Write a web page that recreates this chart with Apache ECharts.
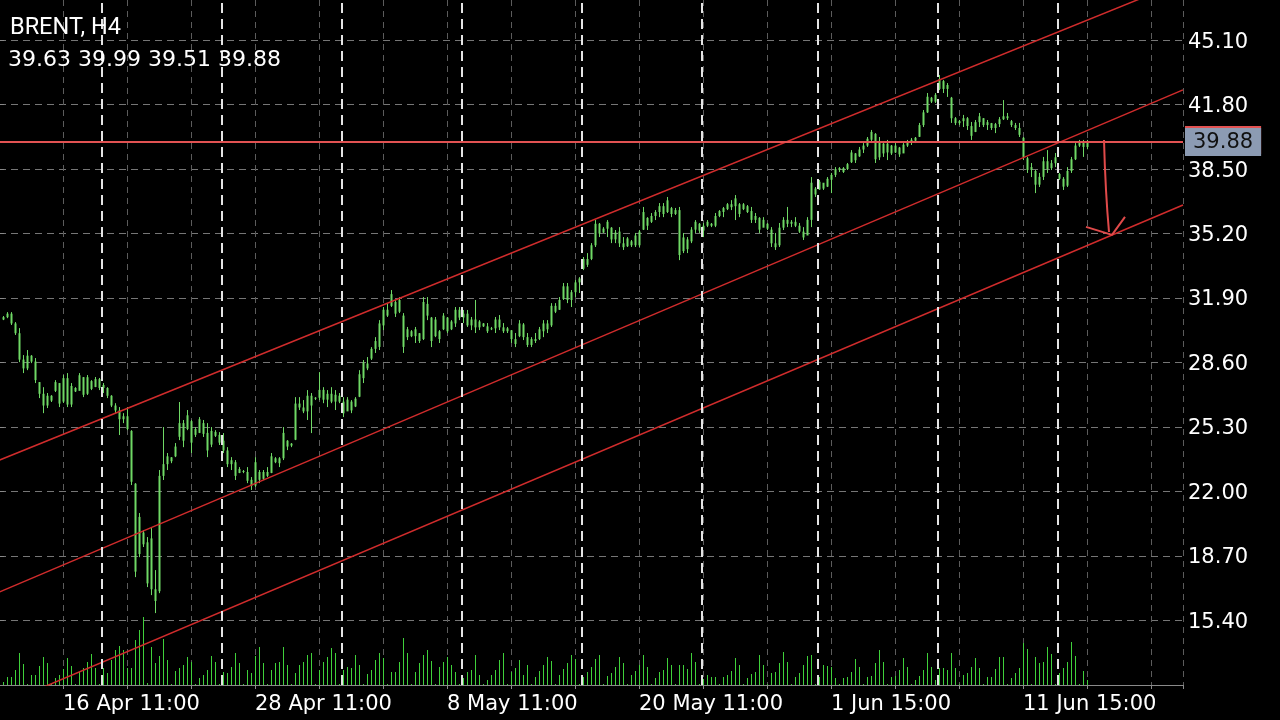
<!DOCTYPE html>
<html>
<head>
<meta charset="utf-8">
<script src="https://cdn.jsdelivr.net/npm/echarts@6/dist/echarts.min.js"></script>
<style>
html,body{margin:0;padding:0;background:#000;}
#chart{width:1280px;height:720px;}
</style>
</head>
<body>
<div id="chart"></div>
<script>
// ---- data (H4 bars, index 0..271) ----
const symbolName = 'BRENT, H4';
const open = [
30.80,30.92,31.10,30.60,30.10,28.75,28.30,28.95,28.65,27.60,
27.00,26.40,26.90,27.15,27.55,26.60,27.80,26.45,27.30,27.15,
27.85,27.00,27.65,27.35,27.75,27.30,27.30,26.90,26.40,26.15,
25.70,25.85,25.10,22.40,18.80,19.90,19.40,19.60,17.00,16.90,
22.80,23.40,23.75,23.80,24.80,25.50,25.20,25.60,25.20,25.00,
25.50,25.00,24.40,25.05,24.90,24.60,24.10,23.40,23.50,22.95,
23.05,23.00,22.60,22.30,23.00,22.65,23.00,22.95,23.70,23.45,
23.70,24.60,24.35,24.65,26.50,26.30,26.10,26.90,26.75,26.80,
27.20,26.70,27.00,26.60,26.90,26.60,26.10,26.60,26.35,26.85,
27.80,28.55,28.80,29.30,29.40,30.50,31.30,31.50,31.70,31.20,
31.00,29.90,30.20,29.95,30.10,29.80,31.60,30.90,29.95,30.20,
30.30,30.90,30.30,30.60,31.30,30.90,31.10,30.50,30.80,30.40,
30.60,30.45,30.30,30.35,30.80,30.40,30.20,30.25,29.80,29.95,
30.55,29.90,29.50,29.80,29.80,30.20,30.60,30.50,31.50,31.30,
31.85,32.50,31.80,32.20,32.70,33.40,33.90,33.90,34.60,35.70,
35.25,35.45,35.50,34.90,35.30,34.70,34.55,34.80,34.60,34.60,
35.40,36.00,35.80,36.10,36.30,36.60,36.30,36.50,36.20,36.40,
34.30,34.90,34.80,35.40,35.70,35.35,35.60,35.70,35.60,36.10,
36.30,36.45,36.70,36.60,36.70,36.45,36.60,36.35,35.90,36.00,
35.50,35.70,35.40,34.70,34.60,35.50,35.90,35.70,35.80,35.60,
35.30,35.10,35.90,37.50,37.45,37.80,37.60,37.95,38.20,38.45,
38.55,38.50,38.85,39.30,39.15,39.50,39.70,40.00,40.30,39.10,
39.80,39.35,39.70,39.35,39.60,39.30,39.70,39.85,39.95,40.15,
40.75,41.40,42.15,41.95,42.60,43.00,42.60,42.15,41.10,40.85,
40.95,41.10,40.70,40.40,40.90,41.10,40.75,40.85,40.60,40.80,
41.05,41.20,40.95,40.75,40.60,40.10,39.05,38.45,38.40,37.70,
38.10,38.90,38.55,38.80,38.25,38.00,37.65,38.40,39.00,39.70,
39.85,39.63
];
const high = [
30.98,31.18,31.18,30.67,30.36,28.98,29.24,28.98,28.83,27.60,
27.34,27.04,26.93,27.70,27.55,27.96,28.06,27.55,27.34,28.06,
27.86,27.96,27.70,27.86,27.81,27.55,27.34,26.93,26.52,26.32,
26.01,26.32,25.14,22.43,20.90,20.03,19.67,20.13,17.98,23.10,
25.30,23.97,23.76,24.48,26.58,25.66,26.17,25.66,25.30,25.81,
25.66,25.50,25.30,25.14,25.04,24.99,24.27,23.76,23.61,23.25,
23.10,23.25,22.74,23.76,23.10,23.10,23.25,23.97,23.76,23.76,
25.30,24.63,24.48,26.83,26.83,26.68,27.19,27.04,26.83,28.11,
27.34,27.19,27.34,27.19,27.04,26.83,26.83,26.68,26.83,28.21,
28.73,28.88,29.39,29.90,30.77,31.44,31.64,32.31,31.80,31.95,
31.13,30.42,30.26,30.42,30.11,31.95,31.95,30.93,30.93,30.26,
31.13,30.93,30.77,31.44,31.44,31.29,31.29,30.93,31.80,30.77,
30.62,30.62,30.42,30.93,31.03,30.62,30.42,30.26,30.11,30.77,
30.62,30.11,29.90,30.11,30.42,30.77,30.77,31.64,31.64,31.95,
32.67,32.67,32.31,32.82,32.97,34.00,34.20,34.71,35.89,35.74,
35.53,35.89,35.53,35.38,35.53,35.02,35.02,34.87,35.23,35.38,
36.56,36.04,36.25,36.40,36.76,36.76,37.07,36.56,36.51,36.56,
35.23,35.02,35.53,35.89,35.74,35.74,35.89,35.74,36.25,36.40,
36.56,36.76,36.91,37.17,36.76,36.76,36.66,36.56,36.25,36.04,
36.04,35.74,35.53,35.23,35.74,36.04,36.56,35.89,36.04,35.74,
35.53,36.04,38.09,37.58,37.94,37.78,38.09,38.30,38.60,38.60,
38.60,38.81,39.47,39.32,39.63,39.83,40.14,40.50,40.34,40.14,
39.83,39.99,39.73,39.83,39.63,39.83,39.99,40.09,40.14,40.86,
41.52,42.39,42.19,42.39,43.31,43.06,42.90,42.19,41.16,41.01,
41.27,41.16,40.91,41.01,41.37,41.11,41.01,40.86,40.86,41.16,
42.03,41.37,41.01,40.86,40.86,40.14,39.12,38.81,38.45,38.30,
39.12,39.47,38.96,39.32,38.30,38.09,38.60,39.12,39.83,39.99,
39.99,39.99
];
const low = [
30.77,30.87,30.52,30.01,28.62,28.06,28.21,28.57,27.55,26.78,
26.01,26.27,26.58,27.09,26.32,26.53,26.32,26.32,27.09,27.19,
26.83,26.94,27.19,27.34,27.19,27.04,26.78,26.32,26.01,24.89,
25.50,25.14,22.33,17.62,18.64,19.16,17.11,16.70,15.78,16.80,
22.59,23.10,23.45,23.76,24.63,24.27,25.14,23.97,24.79,24.99,
24.79,23.76,24.27,24.79,24.38,23.97,23.25,23.10,22.59,22.94,
22.94,22.43,22.08,22.23,22.43,22.59,22.74,22.94,23.45,23.25,
23.61,24.12,24.27,24.63,26.17,26.01,25.66,24.99,26.68,26.68,
26.52,26.32,26.52,26.17,26.52,25.81,26.17,26.01,26.32,26.83,
27.55,28.21,28.73,29.09,29.24,30.26,30.93,31.44,30.93,31.13,
29.09,29.75,29.90,29.60,29.60,29.75,30.77,29.39,29.90,29.60,
30.26,30.11,30.26,30.42,30.77,30.62,30.42,30.26,30.11,30.26,
30.42,30.11,30.26,30.11,30.26,30.11,30.11,29.60,29.39,29.90,
29.75,29.39,29.39,29.60,29.75,29.90,30.11,30.42,31.13,31.29,
31.80,31.64,31.44,31.95,32.16,33.33,33.49,33.84,34.51,35.02,
35.23,35.02,34.71,34.71,34.51,34.36,34.51,34.51,34.51,34.51,
35.38,35.38,35.74,35.89,36.04,36.04,36.25,36.04,36.15,33.84,
34.20,34.20,34.71,35.23,35.23,35.02,35.53,35.53,35.53,36.04,
36.04,36.40,36.40,35.89,36.04,36.40,36.25,35.74,35.74,35.23,
35.53,35.38,34.51,34.36,34.51,35.38,35.53,35.53,35.53,35.23,
34.87,35.23,35.53,37.07,37.43,37.43,37.58,37.27,38.09,38.35,
38.30,38.45,38.81,38.81,39.12,39.32,39.63,39.83,38.81,38.96,
39.12,38.96,39.22,39.32,39.12,39.32,39.63,39.73,39.83,40.14,
40.65,41.37,41.88,41.88,42.54,42.39,42.19,40.86,40.75,40.75,
40.65,40.50,39.99,40.39,40.65,40.65,40.50,40.50,40.34,40.65,
41.01,41.01,40.65,40.50,40.14,38.96,38.30,38.09,37.27,37.58,
37.94,38.30,38.45,38.60,37.94,37.43,37.58,38.30,38.96,39.63,
39.12,39.51
];
const close = [
30.92,31.10,30.60,30.10,28.75,28.30,28.95,28.65,27.70,27.00,
26.40,26.90,26.65,27.60,26.50,27.80,26.45,27.40,27.12,27.95,
26.95,27.85,27.25,27.75,27.30,27.45,26.90,26.40,26.15,25.70,
25.85,25.20,22.50,17.90,20.70,19.30,17.30,17.00,16.40,22.80,
23.40,23.80,23.55,24.30,25.50,24.60,25.90,24.50,24.90,25.70,
24.95,24.10,25.10,24.85,24.50,24.10,23.40,23.60,22.80,23.15,
23.00,22.55,22.30,23.50,22.60,23.00,22.80,23.80,23.50,23.70,
25.00,24.30,24.45,26.50,26.30,26.10,26.90,26.40,26.80,27.20,
26.70,27.00,26.60,26.95,26.60,26.00,26.70,26.15,26.75,28.00,
28.60,28.30,29.30,29.70,30.60,31.30,31.00,32.10,31.10,31.80,
29.40,30.30,29.95,30.30,29.70,31.70,31.00,29.70,30.80,29.80,
31.00,30.20,30.70,31.30,30.90,31.10,30.50,30.80,30.40,30.70,
30.45,30.20,30.35,30.80,30.40,30.20,30.35,29.80,29.55,30.60,
29.90,29.50,29.80,29.70,30.30,30.60,30.30,31.50,31.20,31.80,
32.50,31.80,32.20,32.70,32.90,33.90,33.60,34.60,35.70,35.20,
35.45,35.80,34.90,35.25,34.70,34.50,34.95,34.60,35.10,35.30,
36.30,35.60,36.10,36.30,36.60,36.20,36.90,36.20,36.40,34.10,
35.00,34.40,35.40,35.80,35.35,35.60,35.80,35.60,36.10,36.35,
36.50,36.70,36.55,37.00,36.20,36.70,36.30,35.90,36.10,35.40,
35.90,35.45,34.70,34.50,35.50,35.90,35.70,35.80,35.60,35.30,
35.00,35.90,37.80,37.20,37.85,37.50,38.00,38.20,38.50,38.55,
38.35,38.75,39.35,38.95,39.50,39.70,40.05,40.40,39.00,39.90,
39.30,39.80,39.30,39.70,39.25,39.75,39.90,40.00,40.10,40.75,
41.40,42.20,41.95,42.30,43.10,42.60,42.80,41.10,40.85,40.95,
41.10,40.70,40.20,40.90,41.20,40.75,40.90,40.60,40.80,41.05,
41.20,41.10,40.75,40.60,40.25,39.10,38.45,38.60,37.70,38.10,
38.90,38.50,38.80,39.10,38.00,37.60,38.40,39.00,39.70,39.85,
39.63,39.88
];
const volume = [
300,800,800,1500,3200,2100,100,1000,1000,1900,
2800,2200,100,700,1000,1600,2700,1900,100,1300,
1700,2300,3100,1700,100,1700,1200,2500,3500,3900,
3500,1700,1700,4500,5500,6800,200,3800,2200,2900,
4600,2500,100,1400,1700,2000,2800,2300,100,700,
1000,1500,2900,2300,100,1300,1200,1800,3200,2200,
100,1500,1200,2900,3800,2200,100,1500,2200,2300,
3800,2000,100,1200,2000,2300,3000,3200,100,1500,
2300,2800,3700,3200,100,1500,1800,1700,3000,2000,
100,1100,1500,2500,3200,2700,100,1300,1300,2300,
4700,3200,100,1300,2200,3000,3500,2400,100,1800,
2300,2800,2000,1300,100,700,1300,1500,3000,1000,
100,500,1000,1500,2500,3200,100,1300,1700,2500,
1000,2000,100,800,1400,2000,2800,2400,100,1000,
1600,2200,3000,2600,100,800,1300,1800,2600,3000,
100,900,1200,1800,2800,2200,100,1000,1400,2000,
3000,1800,100,700,1300,1500,2700,2000,100,2000,
2000,1600,3200,2300,100,600,1000,800,800,100,
800,1000,1400,2700,2000,100,700,1100,1300,3000,
2000,100,1200,1300,2200,3300,2300,100,800,1200,
2000,2900,3000,100,800,2000,1900,1800,700,100,
700,800,1300,2600,1800,100,800,900,2200,3500,
2300,100,800,900,1500,2700,1800,100,500,900,
1500,3200,1800,500,1700,1700,1500,3200,1700,100,
1000,1200,1800,2700,1700,100,800,800,1600,2800,
2800,100,700,1200,1700,4200,3600,100,2800,2200,
2300,3800,3100,100,1200,1700,2300,4300,2900,100,
1400,500
];
// date labels on the time axis and the bar they belong to
const dateLabels = ['16 Apr 11:00','28 Apr 11:00','8 May 11:00','20 May 11:00','1 Jun 15:00','11 Jun 15:00'];
const dateLabelBars = [15, 63, 111, 159, 207, 255];
// first bar of each trading week (period separators)
const weekStartBars = [25, 55, 85, 115, 145, 175, 204, 234, 264];
// price axis ticks
const priceMin = 12.1, priceMax = 47.15, priceStep = 3.3;
// hand-drawn trend channel (bar position, price)
const channelUpper = [[0, 23.60], [296, 48.10]];
const channelMiddle = [[0, 16.85], [296, 42.55]];
const channelLower = [[0, 11.03], [296, 36.66]];
// level line
const levelPrice = 39.88;
// hand-drawn arrow (bar position, price)
const arrowShaft = [[276.25, 39.99], [276.75, 37.43], [277.5, 35.28]];
const arrowHead = [[271.75, 35.54], [278.25, 35.13], [281.5, 36.05]];

// ---- build ----
const n = close.length;
const candles = close.map((c, i) => [i + 1, open[i], c, low[i], high[i]]);
const vols = volume.map((v, i) => [i + 1, v]);
const last = n - 1;
const ohlcText = [open[last], high[last], low[last], close[last]].map(v => v.toFixed(2)).join(' ');

const TITLE_FONT = 'Roboto';
const NUM_FONT = 'DejaVu Sans';
const candleColor = '#6fd865';
const volColor = '#3fd03a';
const redLine = '#d02c2c';

const chart = echarts.init(document.getElementById('chart'), null, {renderer: 'canvas'});
chart.setOption({
  backgroundColor: '#000',
  animation: false,
  title: [
    {text: symbolName, left: 10, top: 16, padding: 0, textStyle: {color: '#fff', fontSize: 23.5, fontWeight: 'normal', fontFamily: TITLE_FONT}},
    {text: ohlcText, left: 8, top: 49, padding: 0, textStyle: {color: '#fff', fontSize: 22, fontWeight: 'normal', fontFamily: NUM_FONT}}
  ],
  grid: {left: -1, right: 97, top: 0, bottom: 35, containLabel: false, outerBoundsMode: 'none'},
  xAxis: {
    type: 'value', min: 0, max: 296, interval: 16,
    axisLine: {show: true, lineStyle: {color: '#8a8a8a', width: 1}},
    axisTick: {show: true, length: 4, lineStyle: {color: '#8a8a8a'}},
    splitLine: {show: true, lineStyle: {color: '#5c5c5c', width: 1, type: [6, 5]}},
    axisLabel: {
      color: '#fff', fontSize: 21, fontFamily: NUM_FONT, margin: 9, align: 'left',
      showMinLabel: true, showMaxLabel: true, hideOverlap: false,
      formatter: v => { const k = dateLabelBars.indexOf(Math.round(v) - 1); return k >= 0 ? dateLabels[k] : ''; }
    }
  },
  yAxis: [
    {
      type: 'value', position: 'right', min: priceMin, max: priceMax, interval: priceStep,
      axisLine: {show: true, lineStyle: {color: '#8a8a8a', width: 1}},
      axisTick: {show: true, length: 5, lineStyle: {color: '#8a8a8a'}},
      splitLine: {show: true, showMinLine: false, showMaxLine: false, lineStyle: {color: '#767676', width: 1, type: [7, 5]}},
      axisLabel: {color: '#fff', fontSize: 21, fontFamily: NUM_FONT, margin: 5, showMinLabel: false, showMaxLabel: false,
        verticalAlign: 'top', lineHeight: 4, formatter: v => v.toFixed(2)}
    },
    {type: 'value', min: 0, max: 68500, show: false}
  ],
  series: [
    {
      type: 'custom', name: 'volume', xAxisIndex: 0, yAxisIndex: 1, data: vols,
      encode: {x: 0, y: 1}, silent: true, z: 2,
      renderItem: (params, api) => {
        const p0 = api.coord([api.value(0), 0]);
        const p1 = api.coord([api.value(0), api.value(1)]);
        const x = Math.round(p0[0]) + 0.5;
        return {type: 'line', shape: {x1: x, y1: p0[1], x2: x, y2: p1[1]}, style: {stroke: volColor, lineWidth: 1}};
      }
    },
    {
      type: 'custom', name: 'BRENT', xAxisIndex: 0, yAxisIndex: 0, data: candles,
      encode: {x: 0, y: [1, 2, 3, 4]}, silent: true, z: 3,
      renderItem: (params, api) => {
        const xv = api.value(0);
        const pO = api.coord([xv, api.value(1)]);
        const pC = api.coord([xv, api.value(2)]);
        const pL = api.coord([xv, api.value(3)]);
        const pH = api.coord([xv, api.value(4)]);
        const cx = Math.round(pO[0]);
        const top = Math.min(pO[1], pC[1]);
        const h = Math.max(1, Math.abs(pO[1] - pC[1]));
        return {
          type: 'group',
          children: [
            {type: 'line', shape: {x1: cx + 0.5, y1: pH[1], x2: cx + 0.5, y2: pL[1]}, style: {stroke: candleColor, lineWidth: 1}},
            {type: 'rect', shape: {x: cx - 0.5, y: top, width: 2, height: h}, style: {fill: candleColor}}
          ]
        };
      },
      markLine: {
        silent: true, symbol: 'none', animation: false,
        data: weekStartBars.map(b => ({
          xAxis: b + 0.75,
          lineStyle: {color: '#e4e4e4', width: 2, type: [10, 6]},
          label: {show: false}
        })).concat([{
          yAxis: levelPrice,
          lineStyle: {color: '#e25252', width: 2, type: 'solid'},
          label: {
            show: true, position: 'end', distance: 2,
            formatter: levelPrice.toFixed(2),
            color: '#111', fontSize: 21, fontFamily: NUM_FONT,
            backgroundColor: '#8c9bb3', padding: [4, 8, 3, 8],
            shadowColor: '#e25252', shadowOffsetY: -2, shadowBlur: 0
          }
        }])
      }
    },
    {type: 'line', data: channelUpper, symbol: 'none', lineStyle: {color: redLine, width: 1.5}, silent: true, z: 4},
    {type: 'line', data: channelMiddle, symbol: 'none', lineStyle: {color: redLine, width: 1.5}, silent: true, z: 4},
    {type: 'line', data: channelLower, symbol: 'none', lineStyle: {color: redLine, width: 1.5}, silent: true, z: 4},
    {type: 'line', data: arrowShaft, symbol: 'none', smooth: true, lineStyle: {color: '#e04a4a', width: 2}, silent: true, z: 5},
    {type: 'line', data: arrowHead, symbol: 'none', lineStyle: {color: '#e04a4a', width: 2}, silent: true, z: 5}
  ]
});
</script>
</body>
</html>
